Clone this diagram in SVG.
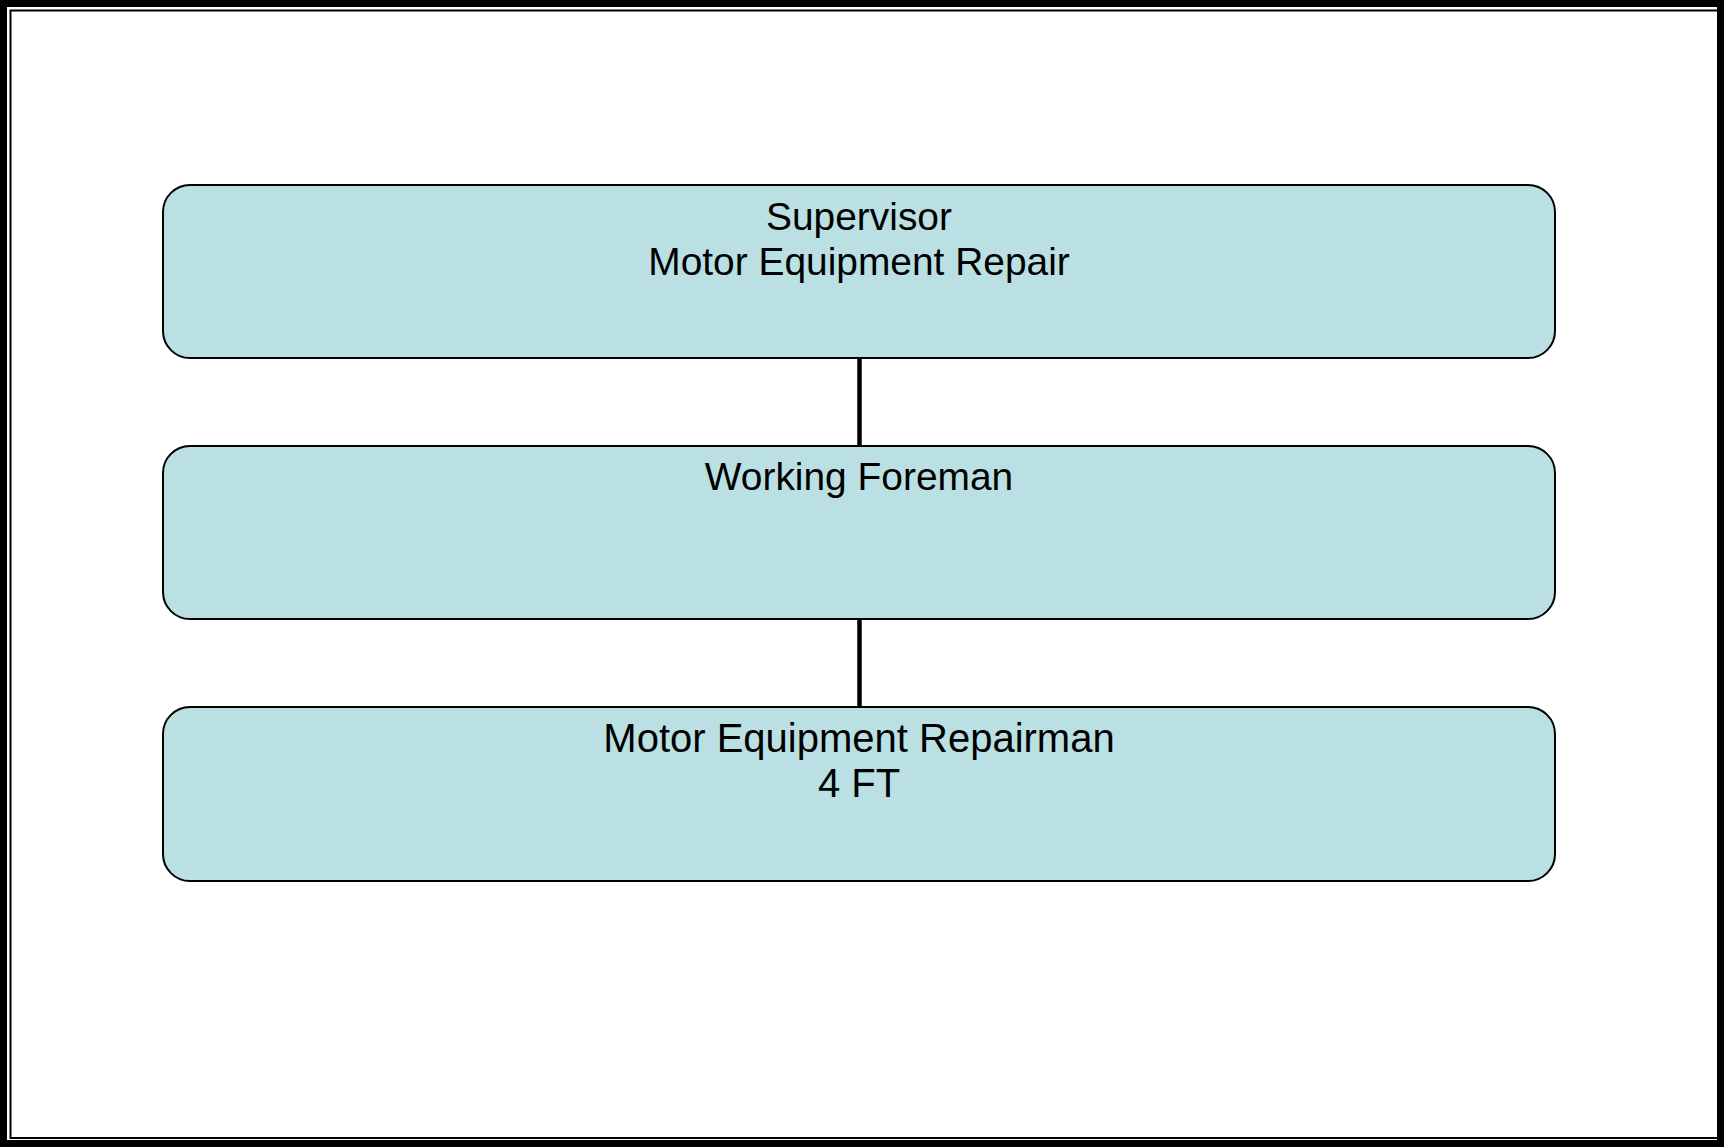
<svg xmlns="http://www.w3.org/2000/svg" width="1724" height="1147" viewBox="0 0 1724 1147">
<style>
.box{fill:#BAE0E3;stroke:#000;stroke-width:2}
.lbl{font-family:"Liberation Sans",Arial,sans-serif;font-size:38.9px;fill:#000;text-anchor:middle}
.lbl.big{font-size:40px}
.conn{stroke:#000;stroke-width:4.5;fill:none}
</style>
<rect x="0" y="0" width="1724" height="1147" fill="#fff"/>
<g id="frame">
<rect x="3.5" y="3.5" width="1717" height="1140" fill="none" stroke="#000" stroke-width="7"/>
<rect x="10.5" y="10.5" width="1707.5" height="1127.5" fill="none" stroke="#000" stroke-width="2"/>
</g>
<g id="connectors">
<line class="conn" x1="859.5" y1="358" x2="859.5" y2="446"/>
<line class="conn" x1="859.5" y1="619" x2="859.5" y2="707"/>
</g>
<g id="supervisor">
<rect class="box" x="163" y="185" width="1392" height="173" rx="27" ry="27"/>
<text class="lbl" x="859" y="230">Supervisor</text>
<text class="lbl" x="859" y="275">Motor Equipment Repair</text>
</g>
<g id="foreman">
<rect class="box" x="163" y="446" width="1392" height="173" rx="27" ry="27"/>
<text class="lbl" x="859" y="490">Working Foreman</text>
</g>
<g id="repairman">
<rect class="box" x="163" y="707" width="1392" height="174" rx="27" ry="27"/>
<text class="lbl big" x="859" y="752">Motor Equipment Repairman</text>
<text class="lbl big" x="859" y="797">4 FT</text>
</g>
</svg>
